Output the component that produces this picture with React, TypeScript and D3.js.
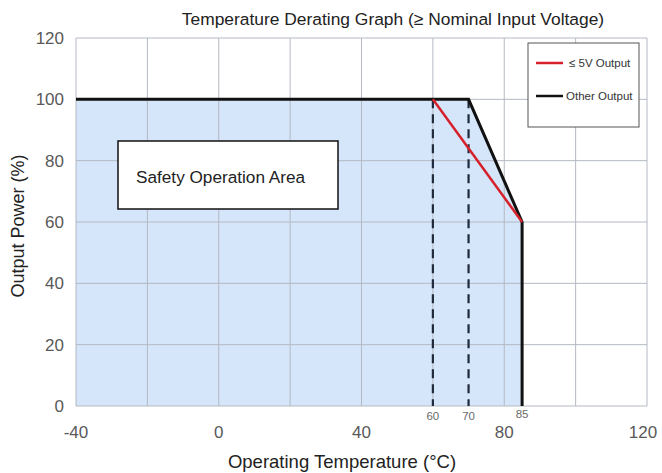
import React from "react";
import * as d3 from "d3";

const W = 662, H = 473;
const xTicksMajor = [-40, 0, 40, 80, 120];
const xGrid = [-40, -20, 0, 20, 40, 60, 80, 100, 120];
const yTicks = [0, 20, 40, 60, 80, 100, 120];
const markTicks = [60, 70, 85];
const otherTemp = [-40, 70, 85, 85];
const otherPower = [100, 100, 60, 0];
const lowTemp = [60, 85];
const lowPower = [100, 60];
const dashTemps = [60, 70];

export default function App() {
  const x = d3.scaleLinear().domain([-40, 120]).range([76, 647]);
  const y = d3.scaleLinear().domain([0, 120]).range([406, 38]);
  const otherPts: [number, number][] = otherTemp.map((t, i) => [t, otherPower[i]]);
  const lowPts: [number, number][] = lowTemp.map((t, i) => [t, lowPower[i]]);
  const line = d3.line<[number, number]>().x(d => x(d[0])).y(d => y(d[1]));
  const area = d3.area<[number, number]>().x(d => x(d[0])).y0(y(0)).y1(d => y(d[1]));
  const font = "Liberation Sans, Arial, sans-serif";
  return (
    <svg width={W} height={H} style={{ position: "absolute", left: 0, top: 0, background: "#fff" }} fontFamily={font}>
      <rect x={0} y={0} width={W} height={H} fill="#fff" />
      <path d={area(otherPts) || ""} fill="#d5e5fa" />
      {xGrid.map(v => (
        <line key={"gx" + v} x1={x(v)} x2={x(v)} y1={y(0)} y2={y(120)} stroke="#b4b9c2" strokeWidth={1} />
      ))}
      {yTicks.map(v => (
        <line key={"gy" + v} x1={x(-40)} x2={x(120)} y1={y(v)} y2={y(v)} stroke="#b4b9c2" strokeWidth={1} />
      ))}
      {dashTemps.map(t => (
        <line key={"d" + t} x1={x(t)} x2={x(t)} y1={y(100)} y2={y(0)} stroke="#1f2a3c" strokeWidth={2.2} strokeDasharray="9,6" />
      ))}
      <path d={line(otherPts) || ""} fill="none" stroke="#111" strokeWidth={3} strokeLinejoin="miter" />
      <path d={line(lowPts) || ""} fill="none" stroke="#d6202a" strokeWidth={2.5} />
      {yTicks.map(v => (
        <text key={"yl" + v} x={64} y={y(v)} dy="0.35em" textAnchor="end" fontSize={17} fill="#595959">{v}</text>
      ))}
      {xTicksMajor.map(v => (
        <text key={"xl" + v} x={v === 120 ? x(v) - 4 : x(v)} y={438} textAnchor="middle" fontSize={17} fill="#595959">{v}</text>
      ))}
      {markTicks.map(v => (
        <text key={"m" + v} x={x(v)} y={v === 85 ? 418 : 420} textAnchor="middle" fontSize={11.5} fill="#6b6b6b">{v}</text>
      ))}
      <text x={393} y={25} textAnchor="middle" fontSize={17.4} fill="#222">Temperature Derating Graph (≥ Nominal Input Voltage)</text>
      <text x={342} y={468} textAnchor="middle" fontSize={18.5} fill="#222">Operating Temperature (°C)</text>
      <text transform="translate(24,226) rotate(-90)" textAnchor="middle" fontSize={18} fill="#222">Output Power (%)</text>
      <rect x={118} y={141} width={220} height={68} fill="#fff" stroke="#111" strokeWidth={1.5} />
      <text x={136} y={183} fontSize={17.2} fill="#222">Safety Operation Area</text>
      <rect x={528} y={43} width={111} height={84} fill="#fff" stroke="#555" strokeWidth={1} />
      <line x1={536} x2={563} y1={63} y2={63} stroke="#d6202a" strokeWidth={2.5} />
      <text x={569} y={63} dy="0.35em" fontSize={11.5} fill="#333">≤ 5V Output</text>
      <line x1={536} x2={563} y1={96} y2={96} stroke="#111" strokeWidth={2.5} />
      <text x={566} y={96} dy="0.35em" fontSize={11.5} fill="#333">Other Output</text>
    </svg>
  );
}
